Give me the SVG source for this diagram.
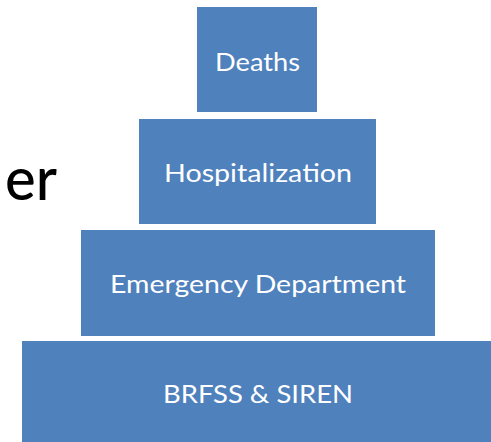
<svg xmlns="http://www.w3.org/2000/svg" width="491" height="442" viewBox="0 0 491 442">
<style>
.box{fill:#4F81BD}
.lbl{font-family:Lato,"Liberation Sans",sans-serif;font-size:25px;fill:#FFFFFF;text-anchor:middle}
.side{font-family:Lato,"Liberation Sans",sans-serif;font-size:60px;font-weight:500;fill:#000000}
</style>
<rect width="491" height="442" fill="#FFFFFF"/>
<text class="side" x="5" y="200" textLength="52" lengthAdjust="spacingAndGlyphs">er</text>
<g id="deaths"><rect class="box" x="197" y="7" width="120" height="105"/><text class="lbl" x="257.5" y="71" textLength="85" lengthAdjust="spacingAndGlyphs">Deaths</text></g>
<g id="hospitalization"><rect class="box" x="139" y="119" width="237" height="105"/><text class="lbl" x="258" y="182" textLength="188" lengthAdjust="spacingAndGlyphs">Hospitalization</text></g>
<g id="emergency"><rect class="box" x="81" y="230" width="354" height="106"/><text class="lbl" x="258" y="293" textLength="296" lengthAdjust="spacingAndGlyphs">Emergency Department</text></g>
<g id="brfss"><rect class="box" x="22" y="341" width="469" height="101"/><text class="lbl" x="258" y="403" textLength="190" lengthAdjust="spacingAndGlyphs">BRFSS &amp; SIREN</text></g>
<g id="connectors"/>
</svg>
